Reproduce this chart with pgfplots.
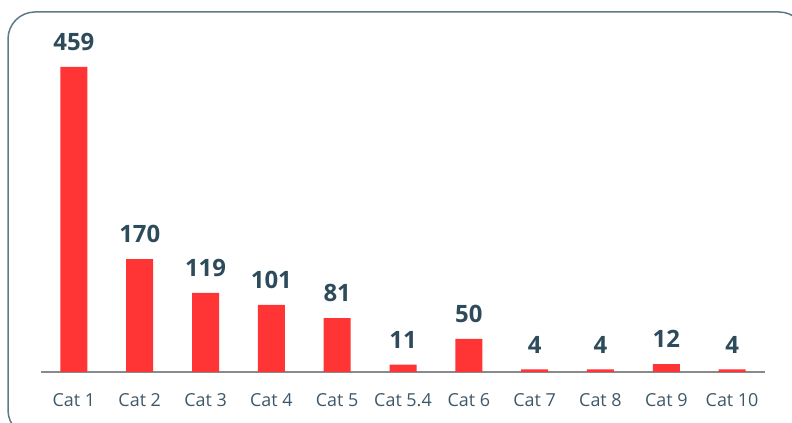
\documentclass[border=0pt]{standalone}
\usepackage{pgfplots}
\pgfplotsset{compat=1.18}
\usepackage{fontspec}
\setmainfont{Open Sans}
\definecolor{barred}{HTML}{FF3434}
\definecolor{numcol}{HTML}{2E4B5C}
\definecolor{tickcol}{HTML}{3E5869}
\definecolor{framecol}{HTML}{5F7A87}
\definecolor{axiscol}{HTML}{8A8A8A}
\pgfplotstableread{
x val
0 459
1 170
2 119
3 101
4 81
5 11
6 50
7 4
8 4
9 12
10 4
}\datatable
\begin{document}
\begin{tikzpicture}
\useasboundingbox (0bp,0bp) rectangle (792bp,423bp);
\draw[framecol, line width=1.5bp, rounded corners=27bp] (8bp,-14bp) rectangle (806bp,411bp);
\begin{axis}[
  at={(41bp,51bp)}, anchor=south west,
  scale only axis, width=724bp, height=305bp,
  xmin=-0.5, xmax=10.5, ymin=0, ymax=459,
  clip=false,
  /pgf/number format/assume math mode=true,
  axis y line=none,
  axis x line*=bottom,
  axis line style={-, draw=axiscol, line width=2bp},
  xtick=data,
  xticklabels={Cat 1, Cat 2, Cat 3, Cat 4, Cat 5, Cat 5.4, Cat 6, Cat 7, Cat 8, Cat 9, Cat 10},
  major tick length=0pt,
  xticklabel style={font=\fontsize{18}{20}\selectfont, text=tickcol, inner sep=0pt, anchor=north, yshift=-21bp},
  ybar, bar width=27bp, bar shift=0pt,
  nodes near coords,
  every node near coord/.append style={font=\fontsize{24}{26}\bfseries\selectfont, text=numcol, inner sep=0pt, anchor=south, yshift=16bp},
]
\addplot[fill=barred, draw=none] table[x=x, y=val] {\datatable};
\end{axis}
\end{tikzpicture}
\end{document}
